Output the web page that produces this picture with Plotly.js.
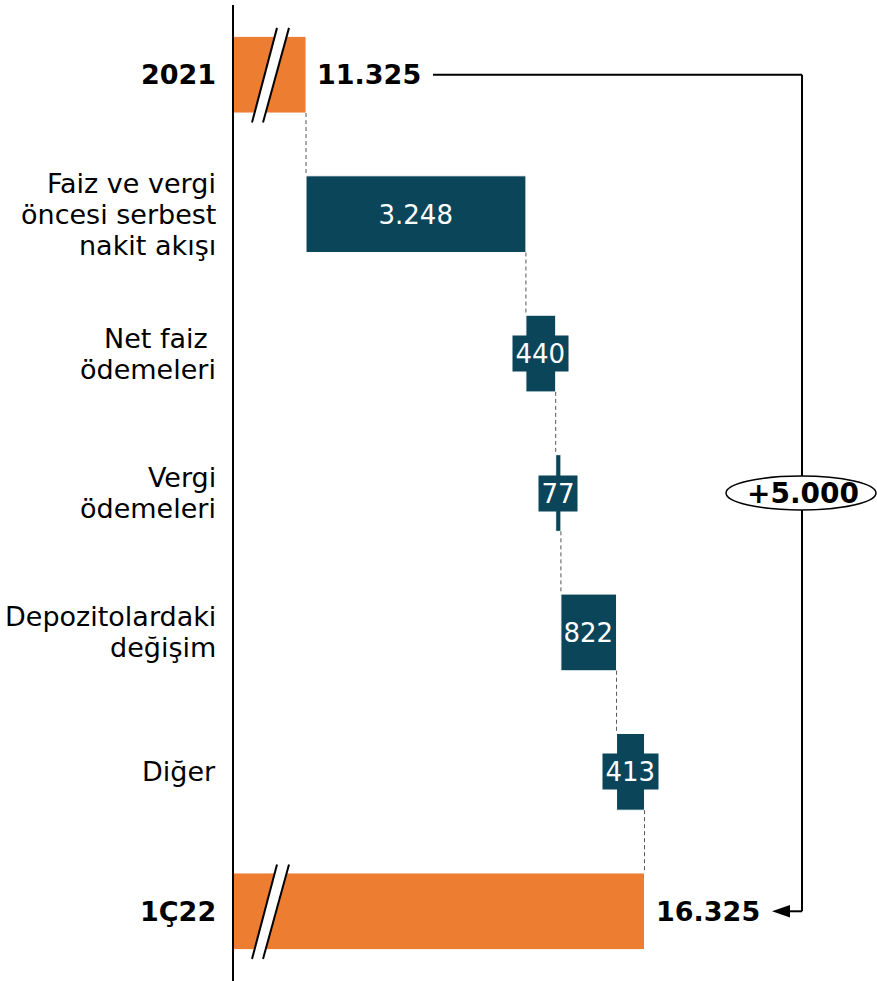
<!DOCTYPE html>
<html>
<head>
<meta charset="utf-8">
<script src="https://cdn.plot.ly/plotly-3.0.1.min.js"></script>
<style>html,body{margin:0;padding:0;background:#fff;}#chart{width:877px;height:981px;}</style>
</head>
<body>
<div id="chart"></div>
<script>
// ---- data ----
const categories = ["2021", "Faiz ve vergi\nöncesi serbest\nnakit akışı", "Net faiz\u00A0\nödemeleri", "Vergi\nödemeleri", "Depozitolardaki\ndeğişim", "Diğer", "1Ç22"];
const totalRows = [0, 6];
const totalValues = [11325, 16325];
const deltaRows = [1, 2, 3, 4, 5];
const deltaValues = [3248, 440, 77, 822, 413];
const changeLabel = "+5.000";

// ---- styling ----
const ORANGE = "#ED7D31";
const TEAL = "#0B4559";
const FONT = "DejaVu Sans, Verdana, sans-serif";
const BARW = 0.55;
const PLOT_L = 234, PLOT_W = 877 - 234;
const px = p => (p - PLOT_L) / PLOT_W; // paper x from pixel

function fmt(n) { return String(n).replace(/\B(?=(\d{3})+(?!\d))/g, "."); }

// cumulative bases
const deltaBases = [];
let cum = totalValues[0];
deltaValues.forEach(v => { deltaBases.push(cum); cum += v; });

const traces = [
  { type: "bar", orientation: "h", y: totalRows, x: totalValues, base: [0, 0], width: BARW,
    marker: { color: ORANGE, line: { color: "#fff", width: 1 } }, hoverinfo: "skip" },
  { type: "bar", orientation: "h", y: deltaRows, x: deltaValues, base: deltaBases, width: BARW,
    marker: { color: TEAL, line: { color: "#fff", width: 1 } }, hoverinfo: "skip" }
];

const shapes = [];
const annotations = [];

// connectors
const ends = [totalValues[0]];
deltaValues.forEach((v, i) => ends.push(deltaBases[i] + v));
ends.forEach((xv, i) => {
  shapes.push({ type: "line", xref: "x", yref: "y", x0: xv, x1: xv, y0: i + BARW / 2, y1: i + 1 - BARW / 2,
    line: { color: "#555", width: 1, dash: "4px,3px" } });
});

// axis break marks on the total bars
totalRows.forEach(r => {
  const yb = r + 0.343, yt = r - 0.336;
  shapes.push({ type: "path", xref: "paper", yref: "y",
    path: `M ${px(252)},${yb} L ${px(277)},${yt} L ${px(289)},${yt} L ${px(263)},${yb} Z`,
    fillcolor: "#fff", line: { width: 0 } });
  shapes.push({ type: "line", xref: "paper", yref: "y", x0: px(252), y0: yb, x1: px(277), y1: yt, line: { color: "#000", width: 2 } });
  shapes.push({ type: "line", xref: "paper", yref: "y", x0: px(263), y0: yb, x1: px(289), y1: yt, line: { color: "#000", width: 2 } });
});

// bracket
const bx = px(802);
shapes.push({ type: "line", xref: "paper", yref: "y", x0: px(433), x1: bx, y0: 0, y1: 0, line: { color: "#000", width: 2 } });
shapes.push({ type: "line", xref: "paper", yref: "y", x0: bx, x1: bx, y0: 0, y1: 6, line: { color: "#000", width: 2 } });
shapes.push({ type: "line", xref: "paper", yref: "y", x0: px(788), x1: bx, y0: 6, y1: 6, line: { color: "#000", width: 2 } });
shapes.push({ type: "path", xref: "paper", yref: "y",
  path: `M ${px(772)},6 L ${px(790)},${6 - 0.045} L ${px(790)},${6 + 0.045} Z`,
  fillcolor: "#000", line: { width: 0 } });
shapes.push({ type: "circle", xref: "paper", yref: "y", x0: px(726), x1: px(876), y0: 3 - 0.122, y1: 3 + 0.122,
  fillcolor: "#fff", line: { color: "#000", width: 1.5 } });
annotations.push({ xref: "paper", yref: "y", x: px(803), y: 3, text: "<b>" + changeLabel + "</b>", showarrow: false,
  font: { family: FONT, size: 28, color: "#000" }, xanchor: "center", yanchor: "middle" });

// total value labels
totalRows.forEach((r, i) => {
  annotations.push({ xref: "x", yref: "y", x: totalValues[i], y: r, xanchor: "left", xshift: 9, yanchor: "middle",
    text: "<b>" + fmt(totalValues[i]) + "</b>", showarrow: false, font: { family: FONT, size: 27, color: "#000" } });
});

// delta value labels
deltaRows.forEach((r, i) => {
  const small = deltaValues[i] < 500;
  annotations.push({ xref: "x", yref: "y", x: deltaBases[i] + deltaValues[i] / 2, y: r, xanchor: "center", yanchor: "middle",
    text: fmt(deltaValues[i]), showarrow: false, font: { family: FONT, size: 26, color: "#fff" },
    bgcolor: small ? TEAL : "rgba(0,0,0,0)", borderpad: 2.5 });
});

// category labels
categories.forEach((c, r) => {
  const lines = c.split("\n");
  const bold = totalRows.includes(r);
  lines.forEach((ln, k) => {
    annotations.push({ xref: "paper", yref: "y", x: 0, y: r, xanchor: "right", yanchor: "middle", xshift: -16,
      yshift: -(k - (lines.length - 1) / 2) * 31, showarrow: false,
      text: bold ? "<b>" + ln + "</b>" : ln, font: { family: FONT, size: 27, color: "#000" } });
  });
});

const layout = {
  width: 877, height: 981,
  margin: { l: PLOT_L, r: 0, t: 5, b: 0 },
  paper_bgcolor: "#fff", plot_bgcolor: "#fff",
  showlegend: false, barmode: "overlay",
  xaxis: { range: [10261, 19759], visible: false, fixedrange: true },
  yaxis: { range: [6.5, -0.5], showline: true, linecolor: "#000", linewidth: 2, showgrid: false,
    zeroline: false, showticklabels: false, ticks: "", fixedrange: true },
  shapes: shapes, annotations: annotations
};

Plotly.newPlot("chart", traces, layout, { displayModeBar: false, staticPlot: true });
</script>
</body>
</html>
